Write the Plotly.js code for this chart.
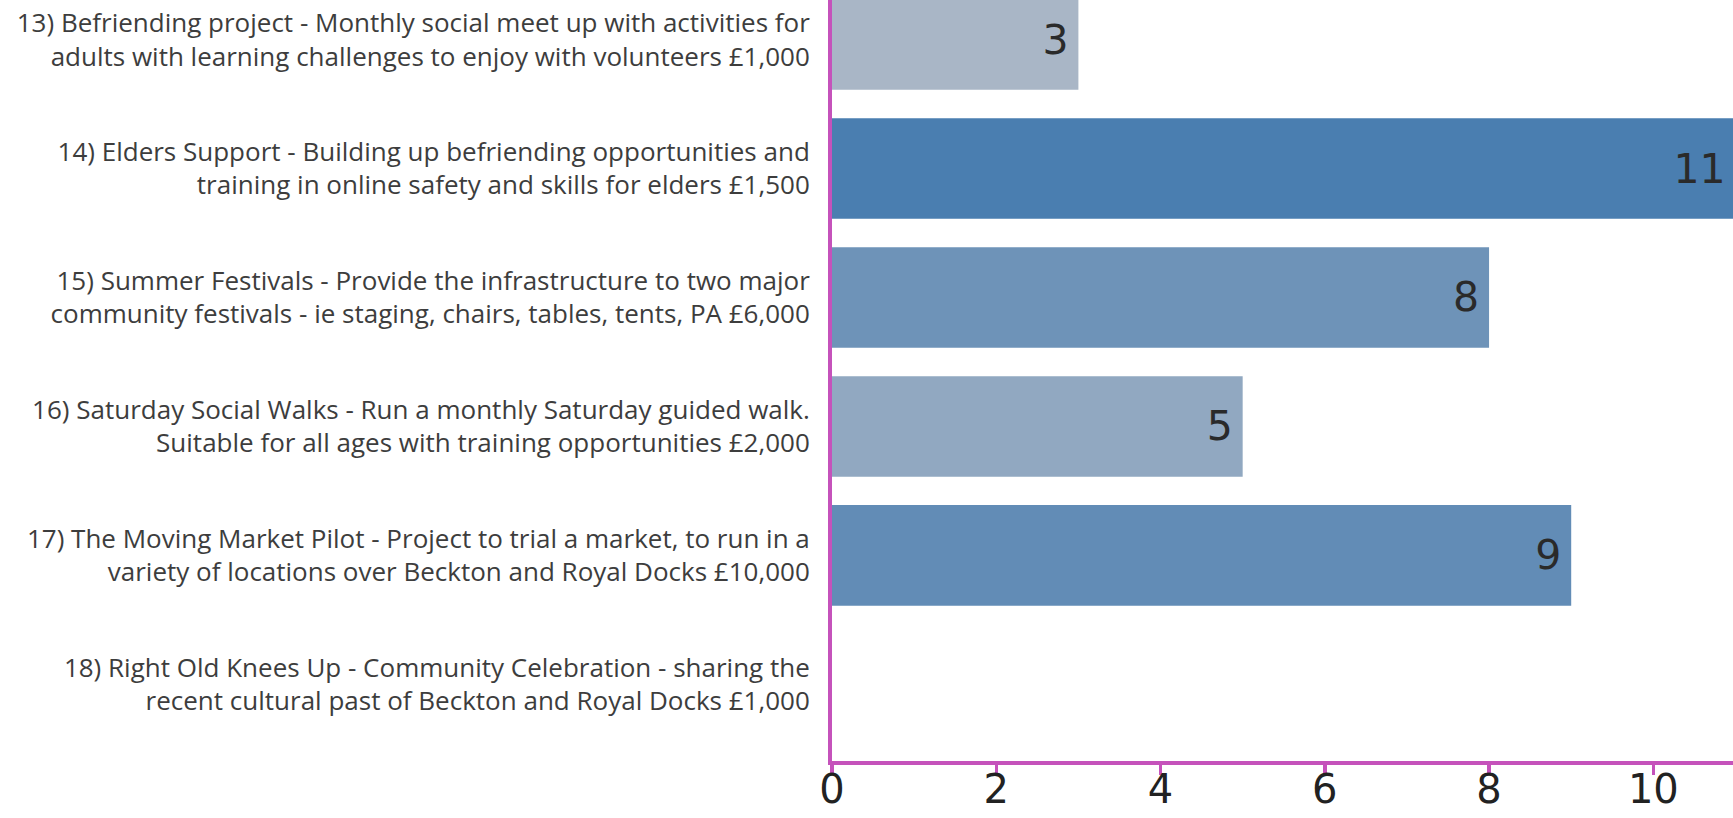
<!DOCTYPE html>
<html>
<head>
<meta charset="utf-8">
<script src="https://cdn.plot.ly/plotly-3.0.1.min.js"></script>
<style>
  html, body { margin: 0; padding: 0; background: #ffffff; overflow: hidden; }
  #chart { width: 1733px; height: 818px; }
</style>
</head>
<body>
<div id="chart"></div>
<script>
// ---- data ----
const projects = [
  "13) Befriending project - Monthly social meet up with activities for<br>adults with learning challenges to enjoy with volunteers £1,000",
  "14) Elders Support - Building up befriending opportunities and<br>training in online safety and skills for elders £1,500",
  "15) Summer Festivals - Provide the infrastructure to two major<br>community festivals - ie staging, chairs, tables, tents, PA £6,000",
  "16) Saturday Social Walks - Run a monthly Saturday guided walk.<br>Suitable for all ages with training opportunities £2,000",
  "17) The Moving Market Pilot - Project to trial a market, to run in a<br>variety of locations over Beckton and Royal Docks £10,000",
  "18) Right Old Knees Up - Community Celebration - sharing the<br>recent cultural past of Beckton and Royal Docks £1,000"
];
const votes = [3, 11, 8, 5, 9, 0];
const xTicks = [0, 2, 4, 6, 8, 10];

// ---- chart ----
const AXIS = '#c552bb';
const barText = votes.map(v => v > 0 ? String(v) + '\u2006' : '');

const trace = {
  type: 'bar',
  orientation: 'h',
  x: votes,
  y: projects,
  text: barText,
  textposition: 'inside',
  insidetextanchor: 'end',
  constraintext: 'none',
  textfont: { family: 'DejaVu Sans', size: 41, color: '#2a2a2a' },
  marker: {
    color: votes,
    cmin: 3,
    cmax: 11,
    colorscale: [[0, '#a9b6c6'], [1, '#4a7eb0']],
    line: { width: 0 }
  },
  hoverinfo: 'none'
};

const layout = {
  width: 1733,
  height: 818,
  margin: { l: 832, r: 0, t: 0, b: 57, pad: 0 },
  paper_bgcolor: '#ffffff',
  plot_bgcolor: '#ffffff',
  bargap: 0.22,
  showlegend: false,
  xaxis: {
    range: [0, 10.97],
    tickvals: xTicks,
    ticktext: xTicks.map(String),
    showgrid: false,
    zeroline: false,
    showline: true,
    linecolor: AXIS,
    linewidth: 4,
    ticks: 'outside',
    ticklen: 10,
    tickwidth: 3.5,
    tickcolor: AXIS,
    ticklabelstandoff: -20,
    tickfont: { family: 'DejaVu Sans', size: 40, color: '#222222' },
    fixedrange: true
  },
  yaxis: {
    type: 'category',
    categoryorder: 'array',
    categoryarray: projects,
    range: [5.594, -0.3065],
    showgrid: false,
    zeroline: false,
    showline: true,
    linecolor: AXIS,
    linewidth: 4,
    ticks: '',
    ticklabelstandoff: 13,
    tickfont: { family: 'Open Sans', size: 26, color: '#3d3d3d' },
    fixedrange: true
  }
};

Plotly.newPlot('chart', [trace], layout, { staticPlot: true, displayModeBar: false });
</script>
</body>
</html>
